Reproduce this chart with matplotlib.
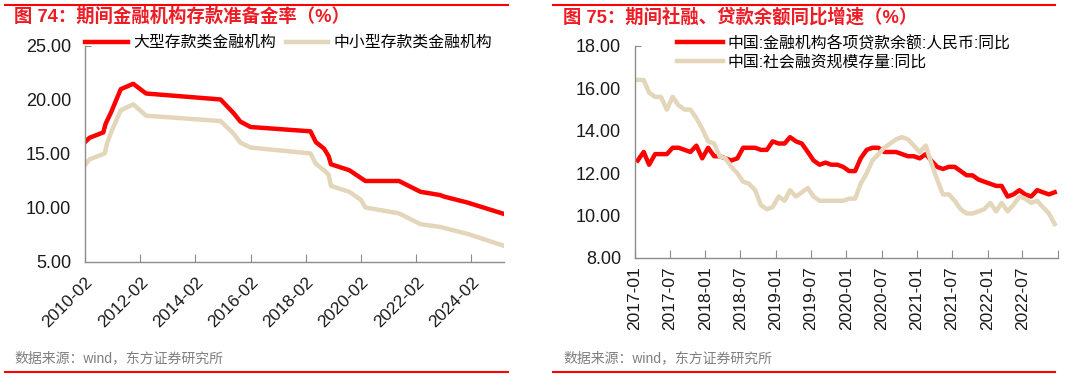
import matplotlib
matplotlib.use("Agg")
import matplotlib.pyplot as plt
import matplotlib.dates as mdates
import pandas as pd
from matplotlib.lines import Line2D
from matplotlib.ticker import FormatStrFormatter

plt.rcParams['font.family'] = ['Liberation Sans', 'Noto Sans CJK SC', 'DejaVu Sans']
plt.rcParams['axes.unicode_minus'] = False

# ======== 数据：存款准备金率 ========
rrr_big_dates = ["2010-02-01", "2010-04-01", "2010-10-01", "2010-11-01", "2011-01-15",
                 "2011-05-20", "2011-11-01", "2012-04-20", "2015-01-01", "2015-06-20",
                 "2015-09-20", "2016-02-01", "2018-04-05", "2018-06-15", "2018-10-01",
                 "2018-12-01", "2019-01-01", "2019-09-01", "2020-04-01", "2021-06-20",
                 "2022-04-01", "2022-12-15", "2023-02-10", "2023-12-15", "2025-04-10"]
rrr_big = [16.1, 16.5, 17.0, 17.8, 18.9,
           21.0, 21.5, 20.6, 20.05, 18.8,
           18.0, 17.5, 17.1, 16.1, 15.5,
           14.8, 14.05, 13.5, 12.5, 12.5,
           11.5, 11.2, 11.05, 10.5, 9.45]

rrr_small_dates = ["2010-02-01", "2010-04-01", "2010-10-20", "2010-11-20", "2011-01-15",
                   "2011-05-20", "2011-11-01", "2012-04-20", "2015-01-01", "2015-06-20",
                   "2015-09-20", "2016-02-01", "2018-04-05", "2018-06-15", "2018-10-01",
                   "2018-12-01", "2019-01-01", "2019-09-01", "2020-02-01", "2020-04-01",
                   "2021-06-20", "2022-04-01", "2022-12-15", "2023-12-15", "2025-04-10"]
rrr_small = [14.0, 14.5, 15.05, 16.0, 17.05,
             19.05, 19.6, 18.55, 18.05, 16.9,
             16.05, 15.6, 15.05, 14.1, 13.5,
             13.1, 12.05, 11.5, 10.75, 10.05,
             9.5, 8.5, 8.25, 7.6, 6.5]

left_ticks = ["2010-02", "2012-02", "2014-02", "2016-02", "2018-02", "2020-02", "2022-02", "2024-02"]

# ======== 数据：社融、贷款余额同比 ========
months = pd.date_range("2017-01-01", periods=72, freq="MS") + pd.Timedelta(days=14)
loan_yoy = [12.6, 13.0, 12.4, 12.9, 12.9, 12.9, 13.2, 13.2, 13.1, 13.0, 13.3, 12.7,
            13.2, 12.8, 12.8, 12.7, 12.6, 12.7, 13.2, 13.2, 13.2, 13.1, 13.1, 13.5,
            13.4, 13.4, 13.7, 13.5, 13.4, 13.0, 12.6, 12.4, 12.5, 12.4, 12.4, 12.3,
            12.1, 12.1, 12.7, 13.1, 13.2, 13.2, 13.0, 13.0, 13.0, 12.9, 12.8, 12.8,
            12.7, 12.9, 12.6, 12.3, 12.2, 12.3, 12.3, 12.1, 11.9, 11.9, 11.7, 11.6,
            11.5, 11.4, 11.4, 10.9, 11.0, 11.2, 11.0, 10.9, 11.2, 11.1, 11.0, 11.1]
tsf_yoy = [16.4, 16.4, 15.8, 15.6, 15.6, 15.0, 15.6, 15.2, 15.0, 15.0, 14.6, 14.1,
           13.5, 13.4, 12.8, 12.7, 12.3, 12.0, 11.6, 11.5, 11.2, 10.5, 10.3, 10.4,
           10.9, 10.7, 11.2, 10.9, 11.1, 11.3, 10.9, 10.7, 10.7, 10.7, 10.7, 10.7,
           10.8, 10.8, 11.5, 12.0, 12.6, 12.9, 13.2, 13.4, 13.6, 13.7, 13.6, 13.3,
           13.0, 13.3, 12.5, 11.7, 11.0, 11.0, 10.7, 10.3, 10.1, 10.1, 10.2, 10.3,
           10.6, 10.2, 10.6, 10.2, 10.5, 10.9, 10.8, 10.6, 10.7, 10.4, 10.1, 9.6]
right_ticks = ["2017-01", "2017-07", "2018-01", "2018-07", "2019-01", "2019-07",
               "2020-01", "2020-07", "2021-01", "2021-07", "2022-01", "2022-07", "2023-01"]

RED = "#FF0000"
BEIGE = "#E3D6BA"
GRAY = "#8C8C8C"
TXT = "#1A1A1A"
TITLE_RED = "#EE1C25"

W, H = 1080, 380
fig = plt.figure(figsize=(W / 100, H / 100), dpi=100)


def style_axes(ax):
    for s in ["top", "right"]:
        ax.spines[s].set_visible(False)
    for s in ["left", "bottom"]:
        ax.spines[s].set_color(GRAY)
        ax.spines[s].set_linewidth(1.0)
    ax.tick_params(axis="x", direction="in", length=6, color=GRAY, labelsize=12.5,
                   labelcolor=TXT, pad=6)
    ax.tick_params(axis="y", direction="in", length=4, color=GRAY, labelsize=13,
                   labelcolor=TXT, pad=10)
    ax.yaxis.set_major_formatter(FormatStrFormatter("%.2f"))
    # 只保留顶端的短刻度
    for t in ax.yaxis.get_major_ticks()[:-1]:
        t.tick1line.set_visible(False)


# ======== 左图 ========
ax1 = fig.add_axes([85 / W, 1 - 262 / H, (504 - 85) / W, (262 - 46) / H])
ax1.plot(pd.to_datetime(rrr_big_dates), rrr_big, color=RED, lw=3.2,
         label="大型存款类金融机构", solid_joinstyle="round")
ax1.plot(pd.to_datetime(rrr_small_dates), rrr_small, color=BEIGE, lw=3.2,
         label="中小型存款类金融机构", solid_joinstyle="round")
ax1.set_ylim(5, 25)
ax1.set_yticks([5, 10, 15, 20, 25])
ax1.set_xlim(pd.Timestamp("2010-02-01"), pd.Timestamp("2025-04-10"))
ax1.set_xticks(pd.to_datetime(left_ticks))
ax1.set_xticklabels(left_ticks, rotation=45, ha="right", rotation_mode="anchor")
style_axes(ax1)
ax1.tick_params(axis="x", pad=9)
ax1.legend(loc="upper left", bbox_to_anchor=(0.0, 1.05), ncol=2, frameon=False,
           fontsize=11.4, handlelength=2.7, handletextpad=0.35, columnspacing=0.6,
           borderpad=0, borderaxespad=0)

# ======== 右图 ========
ax2 = fig.add_axes([635 / W, 1 - 258 / H, (1058 - 635) / W, (258 - 46) / H])
ax2.plot(months, loan_yoy, color=RED, lw=3.2, label="中国:金融机构各项贷款余额:人民币:同比",
         solid_joinstyle="round")
ax2.plot(months, tsf_yoy, color=BEIGE, lw=3.2, label="中国:社会融资规模存量:同比",
         solid_joinstyle="round")
ax2.set_ylim(8, 18)
ax2.set_yticks([8, 10, 12, 14, 16, 18])
ax2.set_xlim(pd.Timestamp("2017-01-01"), pd.Timestamp("2023-01-01"))
ax2.set_xticks(pd.to_datetime(right_ticks))
ax2.set_xticklabels(right_ticks[:-1] + [""], rotation=90, ha="center", va="top")
style_axes(ax2)
ax2.legend(loc="upper left", bbox_to_anchor=(0.1, 1.05), ncol=1, frameon=False,
           fontsize=11.4, handlelength=2.9, handletextpad=0.3, labelspacing=0.2,
           borderpad=0, borderaxespad=0)

# ======== 标题、来源、分隔线 ========
fig.text(14 / W, 1 - 17 / H, "图 74：期间金融机构存款准备金率（%）", color=TITLE_RED,
         fontsize=13.2, fontweight="bold", va="center", ha="left")
fig.text(563 / W, 1 - 17 / H, "图 75：期间社融、贷款余额同比增速（%）", color=TITLE_RED,
         fontsize=13.2, fontweight="bold", va="center", ha="left")
fig.text(14 / W, 1 - 358 / H, "数据来源：wind，东方证券研究所", color="#7F7F7F",
         fontsize=10, va="center", ha="left")
fig.text(563 / W, 1 - 358 / H, "数据来源：wind，东方证券研究所", color="#7F7F7F",
         fontsize=10, va="center", ha="left")

for x0, x1 in [(5, 508), (553, 1055)]:
    for yy in (4.5, 372):
        fig.add_artist(Line2D([x0 / W, x1 / W], [1 - yy / H, 1 - yy / H],
                              color=RED, lw=1.5))

fig.savefig("out.png", dpi=100)
